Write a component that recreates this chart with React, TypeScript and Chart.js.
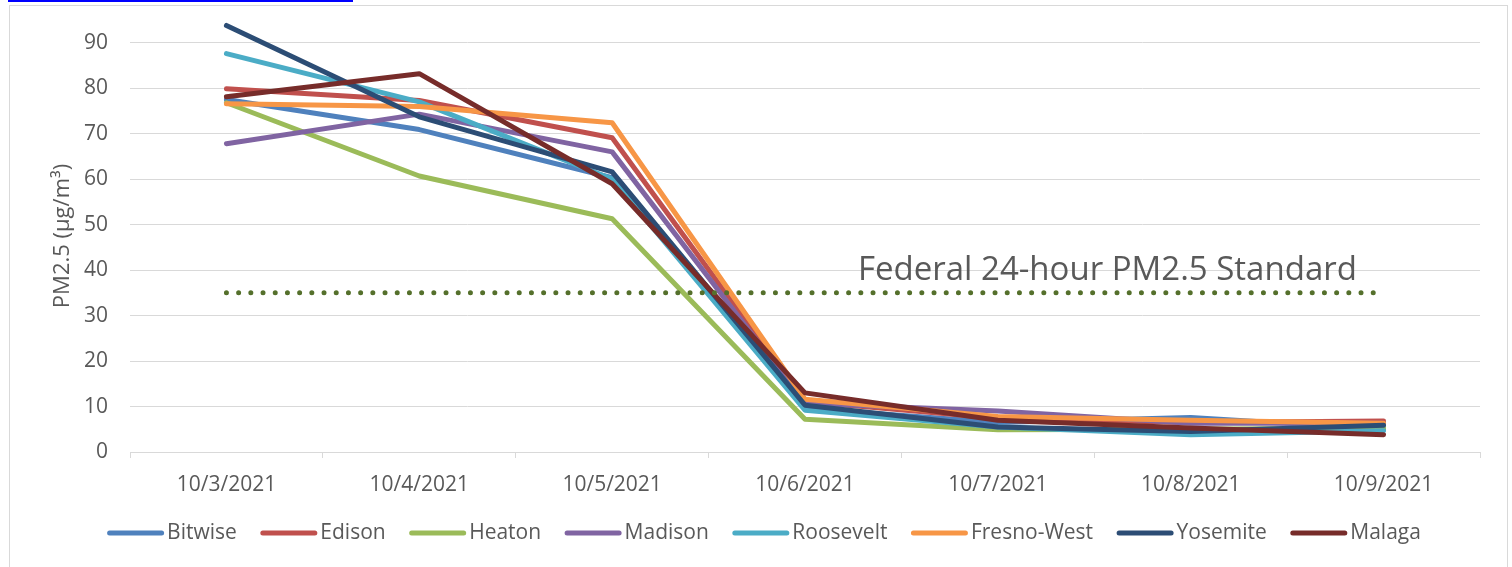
import React, { useEffect, useRef } from "react";
import { Chart, registerables } from "chart.js";

Chart.register(...registerables);

const categories = ["10/3/2021", "10/4/2021", "10/5/2021", "10/6/2021", "10/7/2021", "10/8/2021", "10/9/2021"];

const bitwise = [77.5, 70.9, 60.3, 9.6, 6.5, 7.6, 5.0];
const edison = [79.9, 77.3, 69.1, 11.1, 7.4, 6.5, 6.8];
const heaton = [76.8, 60.7, 51.3, 7.2, 4.9, 5.0, 5.3];
const madison = [67.8, 74.3, 66.0, 10.7, 9.0, 6.3, 6.3];
const roosevelt = [87.6, 77.0, 60.0, 9.2, 5.5, 3.8, 4.7];
const fresnoWest = [76.6, 76.0, 72.4, 11.6, 7.8, 7.0, 6.3];
const yosemite = [93.8, 73.7, 61.6, 10.3, 5.5, 4.5, 5.9];
const malaga = [78.1, 83.2, 59.0, 13.0, 7.0, 5.3, 3.8];
const federalStandard = [35, 35, 35, 35, 35, 35, 35];

const seriesNames = ["Bitwise", "Edison", "Heaton", "Madison", "Roosevelt", "Fresno-West", "Yosemite", "Malaga"];
const seriesValues = [bitwise, edison, heaton, madison, roosevelt, fresnoWest, yosemite, malaga];
const seriesColors = ["#4F81BD", "#C0504D", "#9BBB59", "#8064A2", "#4BACC6", "#F79646", "#2C4D75", "#772C2A"];

const yTicks = [0, 10, 20, 30, 40, 50, 60, 70, 80, 90];
const standardLabel = "Federal 24-hour PM2.5 Standard";
const yTitle = "PM2.5 (µg/m³)";

const FONT = "'Open Sans', sans-serif";
const TEXT = "#595959";
const GRID = "#d9d9d9";

const annotationPlugin = {
  id: "standardText",
  afterDatasetsDraw(chart: any) {
    const { ctx, chartArea, scales } = chart;
    const y = scales.y.getPixelForValue(40);
    ctx.save();
    ctx.font = `33px ${FONT}`;
    ctx.fillStyle = TEXT;
    ctx.textBaseline = "middle";
    ctx.textAlign = "left";
    ctx.fillText(standardLabel, chartArea.left + 728, y);
    ctx.restore();
  },
};

const legendPlugin = {
  id: "excelLegend",
  afterDraw(chart: any) {
    const { ctx } = chart;
    const sample = 57;
    const gapText = 3;
    const gapItem = 23.5;
    ctx.save();
    ctx.font = `21px ${FONT}`;
    const widths = seriesNames.map((n) => ctx.measureText(n).width);
    const total =
      widths.reduce((a, w) => a + w + sample + gapText, 0) + gapItem * (seriesNames.length - 1);
    let x = chart.width / 2 + 8 - total / 2;
    const y = 533;
    seriesNames.forEach((name, i) => {
      ctx.strokeStyle = seriesColors[i];
      ctx.lineWidth = 5;
      ctx.lineCap = "round";
      ctx.beginPath();
      ctx.moveTo(x + 2.5, y);
      ctx.lineTo(x + sample - 2.5, y);
      ctx.stroke();
      ctx.fillStyle = TEXT;
      ctx.textBaseline = "middle";
      ctx.textAlign = "left";
      ctx.fillText(name, x + sample + gapText, y);
      x += sample + gapText + widths[i] + gapItem;
    });
    ctx.restore();
  },
};

export default function App() {
  const ref = useRef<HTMLCanvasElement>(null);
  useEffect(() => {
    if (!ref.current) return;
    const datasets: any[] = seriesNames.map((name, i) => ({
      label: name,
      data: seriesValues[i],
      borderColor: seriesColors[i],
      backgroundColor: seriesColors[i],
      borderWidth: 5,
      pointRadius: 0,
      tension: 0,
      borderCapStyle: "round",
      borderJoinStyle: "round",
      order: 8 - i,
    }));
    datasets.push({
      label: standardLabel,
      data: federalStandard,
      borderColor: "#55702c",
      backgroundColor: "#55702c",
      borderWidth: 5,
      borderDash: [0, 12.2],
      borderCapStyle: "round",
      pointRadius: 0,
      order: -1,
    });
    const chart = new Chart(ref.current, {
      type: "line",
      data: { labels: categories, datasets },
      plugins: [annotationPlugin, legendPlugin],
      options: {
        animation: false,
        responsive: false,
        maintainAspectRatio: false,
        layout: { padding: { left: 45, right: 32, top: 20, bottom: 60 } },
        plugins: {
          tooltip: { enabled: false },
          legend: { display: false },
        },
        scales: {
          x: {
            offset: true,
            grid: { display: true, drawOnChartArea: false, drawTicks: true, tickLength: 6, color: GRID, offset: true },
            border: { display: true, color: GRID, width: 1 },
            ticks: { font: { family: FONT, size: 21 }, color: TEXT, padding: 14.5, maxRotation: 0, autoSkip: false },
            afterFit: (s: any) => {
              s.height = 55;
              s.paddingLeft = 0;
              s.paddingRight = 0;
            },
          },
          y: {
            min: 0,
            max: 95,
            grid: { color: GRID, lineWidth: 1, drawTicks: false },
            border: { display: false },
            ticks: { stepSize: 10, font: { family: FONT, size: 21 }, color: TEXT, padding: 22 },
            afterBuildTicks: (s: any) => {
              s.ticks = yTicks.map((v) => ({ value: v }));
            },
            afterFit: (s: any) => {
              s.width = 85;
              s.paddingTop = 0;
              s.paddingBottom = 0;
            },
            title: {
              display: true,
              text: yTitle,
              font: { family: FONT, size: 22 },
              color: TEXT,
              padding: { top: 5, bottom: 0 },
            },
          },
        },
      },
    });
    return () => chart.destroy();
  }, []);

  return (
    <div style={{ position: "fixed", left: 0, top: 0, width: 1512, height: 567, background: "#fff", overflow: "hidden" }}>
      <div style={{ position: "absolute", left: 8, top: 0, width: 345, height: 2, background: "#0000ff" }} />
      <div style={{ position: "absolute", left: 9, top: 5, width: 1499, height: 600, border: "1px solid #d9d9d9", boxSizing: "border-box" }} />
      <canvas ref={ref} width={1512} height={567} style={{ position: "absolute", left: 0, top: 0, width: 1512, height: 567 }} />
    </div>
  );
}
